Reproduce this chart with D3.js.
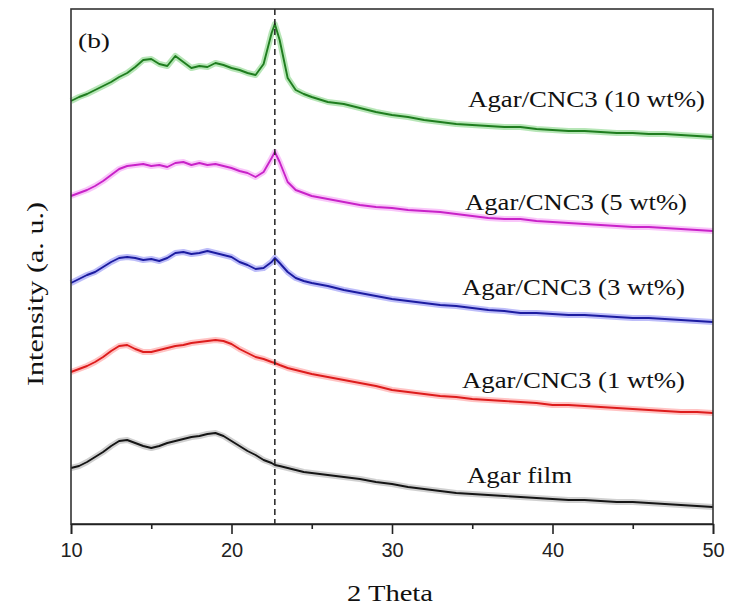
<!DOCTYPE html>
<html><head><meta charset="utf-8">
<script src="https://cdn.jsdelivr.net/npm/d3@7"></script>
<style>body{margin:0;background:#fff}</style>
</head><body><svg id="c" width="729" height="609"></svg>
<script>
// 2θ positions (degrees)
const twoTheta = [10,10.5,11,11.5,12,12.5,13,13.5,14,14.5,15,15.5,16,16.5,17,17.5,18,18.5,19,19.5,20,20.5,21,21.5,22,22.5,22.7,23,23.5,24,24.5,25,26,27,28,29,30,31,32,33,34,35,36,37,38,39,40,41,42,43,44,45,46,47,48,49,50];
// intensities (a.u., stacked/offset as in the figure)
const agarFilm = [56,58,62,67,72,78,83,84,81,78,76,78,81,83,85,87,88,90,91,88,83,78,73,69,64,61,59,58,56,54,52,51,49,47,45,42,40,37,35,33,31,30,29,28,27,26,25,24,24,23,22,22,21,20,19,18,17];
const cnc1 = [152,155,158,162,167,173,178,179,175,172,172,174,176,178,179,181,182,183,184,183,180,175,171,167,165,162,161,159,156,154,152,150,147,144,141,138,134,132,130,128,127,125,124,123,122,121,119,119,118,117,116,115,114,113,112,112,111];
const cnc3 = [241,245,249,252,257,262,266,267,266,264,265,263,266,271,272,270,271,273,271,269,267,262,259,255,256,262,266,261,252,246,243,241,238,234,231,228,225,223,221,219,218,216,214,213,211,211,210,209,209,208,207,206,206,205,204,203,202];
const cnc5 = [328,331,334,338,343,349,355,358,359,360,358,359,357,361,362,359,361,359,360,358,356,353,351,347,352,366,372,362,342,334,331,328,325,322,319,317,316,314,313,312,310,308,306,305,305,303,302,301,300,299,298,297,297,296,295,294,293];
const cnc10 = [423,427,430,434,438,442,447,451,457,464,465,460,458,468,462,456,458,457,461,459,456,454,451,449,460,491,500,484,446,434,430,427,422,420,416,412,409,407,404,402,400,399,398,397,397,395,394,393,393,392,391,391,390,390,389,388,387];
const seriesNames = ["Agar film","Agar/CNC3 (1 wt%)","Agar/CNC3 (3 wt%)","Agar/CNC3 (5 wt%)","Agar/CNC3 (10 wt%)"];
const xTicks = [10,20,30,40,50];
const xMinorTicks = [15,25,35,45];
const peakPosition = 22.7;

const seriesValues = [agarFilm, cnc1, cnc3, cnc5, cnc10];
const styles = [
  {main:"#151515", halo:"#8a8a8a", lx:467, ly:483, lw:105},
  {main:"#dd1c1c", halo:"#ff6a6a", lx:462, ly:388, lw:223},
  {main:"#1c1ca0", halo:"#5a5af0", lx:462, ly:295, lw:223},
  {main:"#c822c8", halo:"#f070f0", lx:465, ly:210, lw:222},
  {main:"#1f7d1f", halo:"#4cc04c", lx:468, ly:107, lw:237}
];

const svg = d3.select("#c");
const L=71, R=713, T=9, B=524;
const x = d3.scaleLinear().domain([10,50]).range([L,R]);
const y = d3.scaleLinear().domain([0,515]).range([B,T]);

const line = d3.line().x((d,i)=>x(twoTheta[i])).y(d=>y(d));
const serif = "'Liberation Serif','Times New Roman',serif";

seriesValues.forEach((vals,k)=>{
  const s = styles[k];
  svg.append("path").attr("d",line(vals)).attr("fill","none")
    .attr("stroke",s.halo).attr("stroke-width",6).attr("stroke-opacity",0.4)
    .attr("stroke-linejoin","round");
  svg.append("path").attr("d",line(vals)).attr("fill","none")
    .attr("stroke",s.main).attr("stroke-width",1.9).attr("stroke-linejoin","round");
  svg.append("text").attr("x",s.lx).attr("y",s.ly)
    .attr("font-family",serif)
    .attr("font-size",23).attr("fill","#111")
    .attr("textLength",s.lw).attr("lengthAdjust","spacingAndGlyphs")
    .text(seriesNames[k]);
});

// dashed reference line
svg.append("line").attr("x1",x(peakPosition)).attr("x2",x(peakPosition))
  .attr("y1",T).attr("y2",B).attr("stroke","#222").attr("stroke-width",1.5)
  .attr("stroke-dasharray","6,4");

// frame
svg.append("rect").attr("x",L).attr("y",T).attr("width",R-L).attr("height",B-T)
  .attr("fill","none").attr("stroke","#333").attr("stroke-width",1.6);

// axes
const gx = svg.append("g").attr("transform",`translate(0,${B})`)
  .call(d3.axisBottom(x).tickValues(xTicks).tickSize(10).tickPadding(9).tickFormat(d3.format("d")));
gx.select(".domain").attr("stroke","#222").attr("stroke-width",1.6);
gx.selectAll(".tick line").attr("stroke","#222").attr("stroke-width",1.6);
gx.selectAll(".tick text").attr("font-family","'Liberation Sans',Arial,sans-serif")
  .attr("font-size",20).attr("fill","#222");
const gm = svg.append("g").attr("transform",`translate(0,${B})`)
  .call(d3.axisBottom(x).tickValues(xMinorTicks).tickSize(5).tickFormat(""));
gm.select(".domain").remove();
gm.selectAll(".tick line").attr("stroke","#222").attr("stroke-width",1.6);

// titles
svg.append("text").attr("x",347).attr("y",601)
  .attr("font-family",serif).attr("font-size",24)
  .attr("fill","#111").attr("textLength",86).attr("lengthAdjust","spacingAndGlyphs").text("2 Theta");
svg.append("text").attr("transform","translate(43,386) rotate(-90)")
  .attr("font-family",serif).attr("font-size",24)
  .attr("fill","#111").attr("textLength",184).attr("lengthAdjust","spacingAndGlyphs").text("Intensity (a. u.)");
svg.append("text").attr("x",78).attr("y",48)
  .attr("font-family",serif).attr("font-size",22)
  .attr("fill","#111").attr("textLength",32).attr("lengthAdjust","spacingAndGlyphs").text("(b)");
</script></body></html>
